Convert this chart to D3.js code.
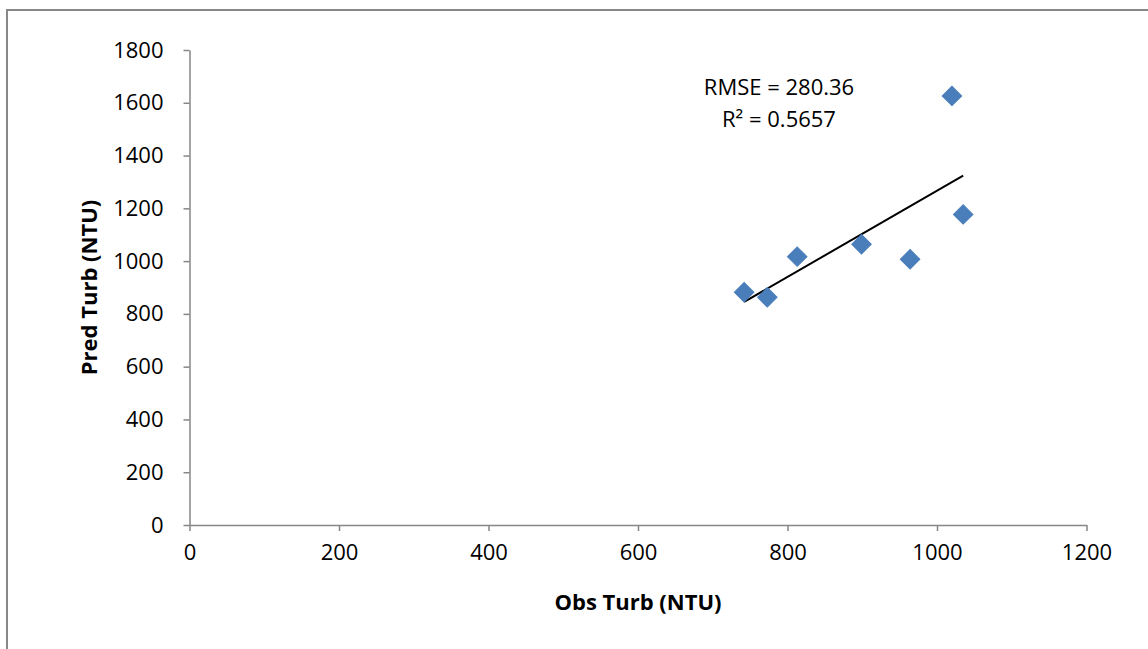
<!DOCTYPE html>
<html>
<head>
<meta charset="utf-8">
<script src="https://cdn.jsdelivr.net/npm/d3@7"></script>
<style>
  body { margin: 0; background: #fff; }
  text { font-family: "Open Sans", Lato, sans-serif; fill: #000; }
</style>
</head>
<body>
<div id="chart"></div>
<script>
// observed vs predicted turbidity (NTU)
const obsTurb = [742, 773, 813, 899, 964, 1020, 1035];
const predTurb = [882, 863, 1017, 1064, 1007, 1626, 1177];
const xTicks = [0, 200, 400, 600, 800, 1000, 1200];
const yTicks = [0, 200, 400, 600, 800, 1000, 1200, 1400, 1600, 1800];
const statsLines = ["RMSE = 280.36", "R² = 0.5657"];

const width = 1148;
const height = 649;
const margin = { left: 189.5, right: 1148 - 1086.5, top: 50, bottom: 649 - 525 };

const svg = d3.select("#chart")
    .append("svg")
    .attr("width", width)
    .attr("height", height);

// outer chart frame (runs off right/bottom edge)
svg.append("rect")
    .attr("x", 7)
    .attr("y", 10)
    .attr("width", width + 20)
    .attr("height", height + 20)
    .attr("fill", "none")
    .attr("stroke", "#888")
    .attr("stroke-width", 2);

const x = d3.scaleLinear().domain([0, 1200]).range([margin.left, width - margin.right]);
const y = d3.scaleLinear().domain([0, 1800]).range([height - margin.bottom, margin.top]);

// axes
const xAxis = svg.append("g")
    .attr("transform", `translate(0,${y(0)})`)
    .call(d3.axisBottom(x).tickValues(xTicks).tickFormat(d3.format("d"))
        .tickSize(6).tickPadding(13).tickSizeOuter(0));

const yAxis = svg.append("g")
    .attr("transform", `translate(${x(0)},0)`)
    .call(d3.axisLeft(y).tickValues(yTicks).tickFormat(d3.format("d"))
        .tickSize(6).tickPadding(20).tickSizeOuter(0));

[xAxis, yAxis].forEach(a => {
    a.select(".domain").attr("stroke", "#868686").attr("stroke-width", 1.5);
    a.selectAll(".tick line").attr("stroke", "#868686").attr("stroke-width", 1.5);
    a.selectAll(".tick text").style("font-size", "22px").attr("fill", "#000");
});
xAxis.selectAll(".tick text").attr("dy", "0.71em");

// linear trend line fitted to the points
const xMean = d3.mean(obsTurb), yMean = d3.mean(predTurb);
const slope = d3.sum(obsTurb, (v, k) => (v - xMean) * (predTurb[k] - yMean)) /
    d3.sum(obsTurb, v => (v - xMean) ** 2);
const intercept = yMean - slope * xMean;
const xExt = d3.extent(obsTurb);

svg.append("line")
    .attr("x1", x(xExt[0]))
    .attr("y1", y(intercept + slope * xExt[0]))
    .attr("x2", x(xExt[1]))
    .attr("y2", y(intercept + slope * xExt[1]))
    .attr("stroke", "#000")
    .attr("stroke-width", 2);

// diamond markers
svg.selectAll(".pt")
    .data(obsTurb.map((v, k) => [v, predTurb[k]]))
    .enter()
    .append("path")
    .attr("class", "pt")
    .attr("d", d3.symbol(d3.symbolSquare, 190))
    .attr("transform", d => `translate(${x(d[0])},${y(d[1])}) rotate(45)`)
    .attr("fill", "#4a7ebb")
    .attr("stroke", "#4a7ebb")
    .attr("stroke-width", 1);

// regression stats label
svg.append("g")
    .selectAll("text")
    .data(statsLines)
    .enter()
    .append("text")
    .attr("x", 779)
    .attr("y", (d, k) => 95 + k * 32)
    .attr("text-anchor", "middle")
    .style("font-size", "22px")
    .text(d => d);

// axis titles
svg.append("text")
    .attr("x", (x(0) + x(1200)) / 2)
    .attr("y", 610)
    .attr("text-anchor", "middle")
    .style("font-size", "22px")
    .style("font-weight", "bold")
    .text("Obs Turb (NTU)");

svg.append("text")
    .attr("transform", `translate(97,${(y(0) + y(1800)) / 2}) rotate(-90)`)
    .attr("text-anchor", "middle")
    .style("font-size", "22px")
    .style("font-weight", "bold")
    .text("Pred Turb (NTU)");
</script>
</body>
</html>
